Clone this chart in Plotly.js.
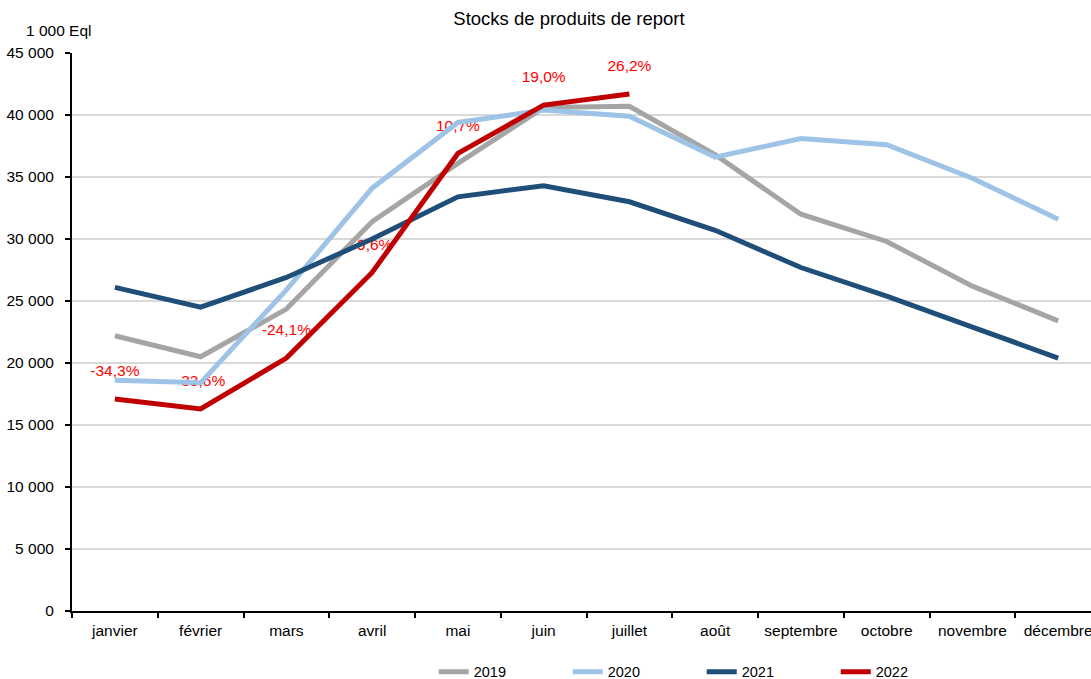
<!DOCTYPE html>
<html><head><meta charset="utf-8">
<script src="https://cdn.plot.ly/plotly-3.0.1.min.js"></script>
<style>html,body{margin:0;padding:0;background:#fff}#chart{width:1091px;height:679px}</style>
</head><body><div id="chart"></div>
<script>
const months = ["janvier","février","mars","avril","mai","juin","juillet","août","septembre","octobre","novembre","décembre"];
const s2019 = [22200,20500,24350,31400,36100,40600,40700,36800,32000,29800,26200,23400];
const s2020 = [18600,18400,25900,34100,39400,40400,39900,36600,38100,37600,34900,31600];
const s2021 = [26100,24500,26900,30000,33400,34300,33000,30700,27700,25400,22900,20400];
const s2022 = [17100,16300,20400,27300,36900,40800,41700];
const pctLabels = ["-34,3%","-33,6%","-24,1%","-9,6%","10,7%","19,0%","26,2%"];

const labelOffset = 2150; // vertical offset of the labels above the 2022 line, in axis units
const font = "Liberation Sans, Arial, sans-serif";

const traces = [
  {x: months.slice(0, s2022.length), y: s2022.map(v => v + labelOffset), mode: "text", text: pctLabels,
   textposition: "middle center", textfont: {color: "#FF0000", size: 15.5, family: font},
   showlegend: false, hoverinfo: "skip", cliponaxis: false},
  {x: months, y: s2019, name: "2019", mode: "lines", line: {color: "#A5A5A5", width: 5}},
  {x: months, y: s2020, name: "2020", mode: "lines", line: {color: "#9DC3E6", width: 5}},
  {x: months, y: s2021, name: "2021", mode: "lines", line: {color: "#1F4E79", width: 5}},
  {x: months.slice(0, s2022.length), y: s2022, name: "2022", mode: "lines", line: {color: "#C00000", width: 5}}
];

const layout = {
  width: 1091, height: 679,
  margin: {l: 72, r: 0, t: 53, b: 68},
  paper_bgcolor: "#fff", plot_bgcolor: "#fff",
  separators: ", ",
  font: {family: font, size: 15.5, color: "#000"},
  title: {text: "Stocks de produits de report", x: 569, xref: "paper", xanchor: "center", y: 0.973, yref: "container", yanchor: "middle", font: {size: 18.5, family: font, color: "#000"}},
  xaxis: {type: "category", range: [-0.5, 11.383], tickson: "boundaries", ticks: "outside", ticklen: 5, tickcolor: "#000", tickwidth: 2,
          showline: true, linecolor: "#000", linewidth: 2, showgrid: false, zeroline: false, fixedrange: true,
          ticklabelstandoff: 4, tickfont: {size: 15.5, family: font}},
  yaxis: {range: [0, 45000], dtick: 5000, tickformat: ",d", ticks: "outside", ticklen: 5, tickcolor: "#000", tickwidth: 2,
          showline: true, linecolor: "#000", linewidth: 2, showgrid: true, gridcolor: "#D9D9D9", gridwidth: 2, zeroline: false,
          ticklabelstandoff: 8, tickfont: {size: 15.5, family: font}},
  legend: {orientation: "h", x: 0.355, xanchor: "left", xref: "paper", y: 0.0105, yref: "container", yanchor: "middle",
           entrywidth: 89, entrywidthmode: "pixels", font: {size: 14.5, family: font}},
  annotations: [{text: "1 000 Eql", xref: "paper", yref: "paper", x: 0, xanchor: "right", xshift: 22, y: 1, yanchor: "bottom", yshift: 12, showarrow: false, font: {size: 15.5, family: font}}],
  showlegend: true
};
layout.title.x = (569 - layout.margin.l) / (layout.width - layout.margin.l - layout.margin.r);

Plotly.newPlot("chart", traces, layout, {displayModeBar: false, staticPlot: true});
</script></body></html>
